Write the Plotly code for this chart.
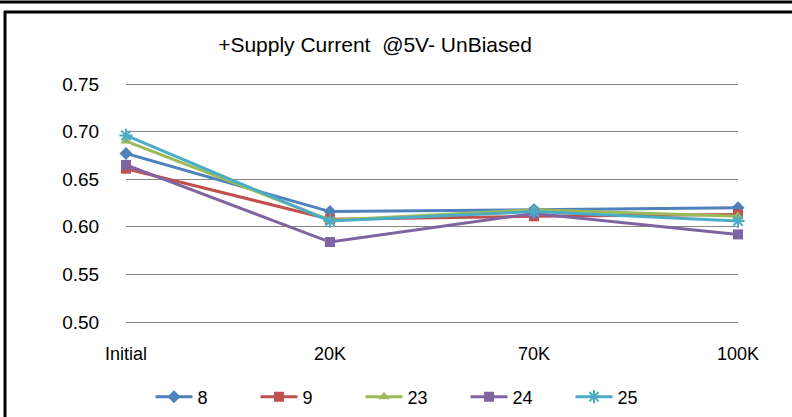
import plotly.graph_objects as go

categories = ["Initial", "20K", "70K", "100K"]
series_names = ["8", "9", "23", "24", "25"]
s8 = [0.677, 0.616, 0.618, 0.620]
s9 = [0.661, 0.608, 0.611, 0.613]
s23 = [0.690, 0.607, 0.618, 0.611]
s24 = [0.665, 0.584, 0.614, 0.592]
s25 = [0.696, 0.606, 0.616, 0.606]
y_ticks = [0.50, 0.55, 0.60, 0.65, 0.70, 0.75]

series_values = [s8, s9, s23, s24, s25]
colors = ["#4F81BD", "#C0504D", "#9BBB59", "#8064A2", "#4BACC6"]
symbols = ["diamond", "square", "triangle-up", "square", "asterisk-open"]
sizes = [10, 10, 10, 10, 11]

fig = go.Figure()
for name, vals, c, sym, sz in zip(series_names, series_values, colors, symbols, sizes):
    fig.add_trace(go.Scatter(
        x=categories, y=vals, name=name, mode="lines+markers", cliponaxis=False,
        line=dict(color=c, width=3),
        marker=dict(symbol=sym, size=sz, color=c, line=dict(color=c, width=2 if sym == "asterisk-open" else 0)),
    ))

W, H = 792, 417
L, R, T, B = 126, 54, 82, 93
pw, ph = W - L - R, H - T - B
# pixel rows of the 0.75 and 0.50 gridlines
Y_TOP_PX, Y_BOT_PX = 84, 322
scale = (Y_BOT_PX - Y_TOP_PX) / 0.25
y_lo = 0.50 - ((H - B) - Y_BOT_PX) / scale
y_hi = 0.75 + (Y_TOP_PX - T) / scale

def px(x):
    return (x - L) / pw

def py(y):
    return (H - B - y) / ph

fig.update_layout(
    width=W, height=H,
    margin=dict(l=L, r=R, t=T, b=B, pad=0, autoexpand=False),
    paper_bgcolor="white", plot_bgcolor="white",
    font=dict(family="Liberation Sans, Arial, sans-serif", size=18, color="black"),
    title=dict(text="+Supply Current  @5V- UnBiased", x=375 / W, xanchor="center",
               y=1 - 45 / H, yanchor="middle", font=dict(size=21)),
    showlegend=True,
    legend=dict(orientation="h", x=px(413), xanchor="center", y=py(397), yanchor="middle",
                font=dict(size=18), itemwidth=37, entrywidth=53, entrywidthmode="pixels",
                traceorder="normal"),
    xaxis=dict(type="category", range=[0, 3], showgrid=False, showline=False, zeroline=False,
               ticks="outside", ticklen=13, tickcolor="rgba(0,0,0,0)", tickfont=dict(size=18)),
    yaxis=dict(range=[y_lo, y_hi], tickvals=y_ticks, tickformat=".2f", showgrid=True,
               gridcolor="#868686", gridwidth=1, showline=False, zeroline=False,
               ticks="outside", ticklen=22, tickcolor="rgba(0,0,0,0)", tickfont=dict(size=19)),
    shapes=[
        dict(type="line", xref="paper", yref="paper", x0=px(0), x1=px(W), y0=py(2), y1=py(2),
             line=dict(color="black", width=3)),
        dict(type="line", xref="paper", yref="paper", x0=px(4), x1=px(W), y0=py(12), y1=py(12),
             line=dict(color="black", width=3)),
        dict(type="line", xref="paper", yref="paper", x0=px(5), x1=px(5), y0=py(11), y1=py(H),
             line=dict(color="black", width=3)),
    ],
)

fig.write_html("out.html", config={"displayModeBar": False},
               post_script="document.body.style.margin='0';document.body.style.overflow='hidden';")
